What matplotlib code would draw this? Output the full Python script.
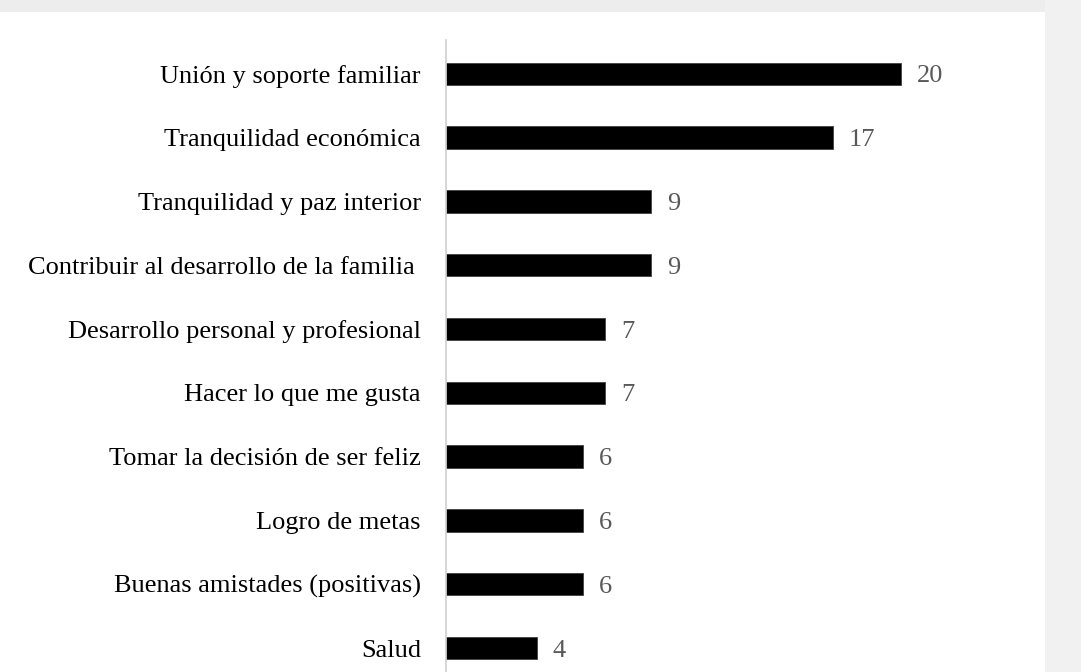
import matplotlib.pyplot as plt

# datos
categorias = [
    "Unión y soporte familiar",
    "Tranquilidad económica",
    "Tranquilidad y paz interior",
    "Contribuir al desarrollo de la familia ",
    "Desarrollo personal y profesional",
    "Hacer lo que me gusta",
    "Tomar la decisión de ser feliz",
    "Logro de metas",
    "Buenas amistades (positivas)",
    "Salud",
]
valores = [20, 17, 9, 9, 7, 7, 6, 6, 6, 4]

plt.rcParams['font.family'] = ['Liberation Serif', 'DejaVu Serif']

fig = plt.figure(figsize=(10.81, 6.72), dpi=100)
fig.patch.set_facecolor('white')

# fondo gris tenue (marca de agua recortada)
fig.patches.append(plt.Rectangle((0, 1 - 12 / 672), 1, 12 / 672, transform=fig.transFigure,
                                 facecolor='#ededed', edgecolor='none', zorder=0))
fig.patches.append(plt.Rectangle((1045 / 1081, 0), 36 / 1081, 1, transform=fig.transFigure,
                                 facecolor='#f1f1f1', edgecolor='none', zorder=0))

ax = fig.add_axes([446 / 1081, 0, (1000 - 446) / 1081, 1 - 40 / 672])
ax.set_facecolor('none')

pos = list(range(len(categorias)))
ax.barh(pos, valores, height=0.35, color='black', edgecolor='#404040', linewidth=0.6)

for y, v in zip(pos, valores):
    ax.text(v + 0.7, y, str(v), va='center_baseline', ha='left', fontsize=19, color='#595959')

ax.set_yticks(pos)
ax.set_yticklabels(categorias, fontsize=19, color='black', va='center_baseline')
ax.tick_params(axis='y', length=0, pad=18)
ax.set_xticks([])
ax.set_xlim(0, (1000 - 446) / 22.75)
ax.set_ylim(9 + 24 / 63.8, -0.53)

for s in ['top', 'right', 'bottom']:
    ax.spines[s].set_visible(False)
ax.spines['left'].set_color('#d0d0d0')
ax.spines['left'].set_linewidth(1.2)

fig.savefig('out.png', dpi=100)
